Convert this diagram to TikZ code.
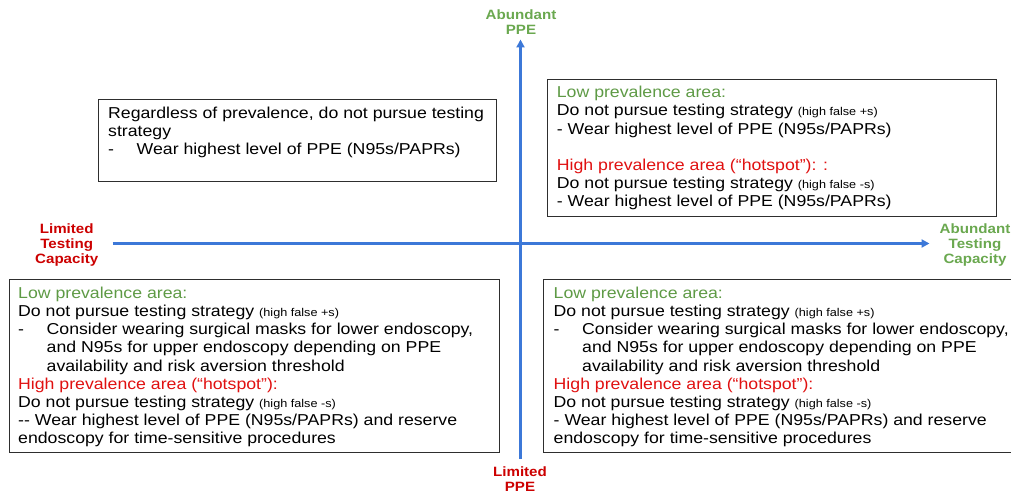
\documentclass[tikz,border=0pt]{standalone}
\usepackage{fontspec}
\setmainfont{Liberation Sans}[FakeStretch=1.12]
\usetikzlibrary{arrows.meta}
\definecolor{axisblue}{HTML}{3C78D8}
\definecolor{labgreen}{HTML}{6AA84F}
\definecolor{txtgreen}{HTML}{5E9A45}
\definecolor{labred}{HTML}{CC0000}
\definecolor{txtred}{HTML}{E01010}
\newcommand\smtxt[1]{{\fontsize{11.3}{18.15}\selectfont #1}}
\newcommand\bul{\makebox[28.5pt][l]{-}}
\newcommand\ind{\hspace*{28.5pt}}
\begin{document}
\begin{tikzpicture}[x=1pt,y=-1pt,
  box/.style={draw=black!82, line width=1.1pt, inner sep=0pt, anchor=north west},
  txt/.style={anchor=north west, inner sep=0pt, align=left, font=\fontsize{15.8}{18.15}\selectfont},
  axis/.style={draw=axisblue, line width=2.4pt, -{Triangle[length=8pt,width=8pt]}},
  lab/.style={anchor=north, inner sep=0pt, align=center, font=\bfseries\fontsize{13.5}{15}\selectfont}]
\useasboundingbox (0,0) rectangle (1011,495);

% axes
\coordinate (vbot) at (520.5,459);
\coordinate (vtop) at (520.5,39.5);
\coordinate (hleft) at (112.5,243.5);
\coordinate (hright) at (929.5,243.5);
\draw[axis] (vbot) -- (vtop);
\draw[axis] (hleft) -- (hright);

% axis labels
\node[lab, text=labgreen] (abppe) at (521,8.5) {\strut Abundant\\PPE};
\node[lab, text=labred] (limppe) at (520,466) {\strut Limited\\PPE};
\node[lab, text=labred] (limtest) at (66.7,222.8) {\strut Limited\\Testing\\Capacity};
\node[lab, text=labgreen] (abtest) at (975,222.8) {\strut Abundant\\Testing\\Capacity};

% boxes
\node[box, minimum width=398.5pt, minimum height=82pt] (tlbox) at (97.5,99) {};
\node[box, minimum width=449.5pt, minimum height=137.5pt] (trbox) at (546.5,78.5) {};
\node[box, minimum width=490.5pt, minimum height=172.5pt] (blbox) at (8.5,279) {};
\node[box, minimum width=490pt, minimum height=172.5pt] (brbox) at (543,279) {};

% texts
\node[txt] (tltext) at (108,105.6) {\strut Regardless of prevalence, do not pursue testing\\
strategy\\
\bul Wear highest level of PPE (N95s/PAPRs)};

\node[txt] (trtext) at (556.7,84.8) {\strut\textcolor{txtgreen}{Low prevalence area:}\\
Do not pursue testing strategy \smtxt{(high false +s)}\\
- Wear highest level of PPE (N95s/PAPRs)\\
\strut\\
\textcolor{txtred}{High prevalence area (“hotspot”): :}\\
Do not pursue testing strategy \smtxt{(high false -s)}\\
- Wear highest level of PPE (N95s/PAPRs)};

\node[txt] (bltext) at (18,285.6) {\strut\textcolor{txtgreen}{Low prevalence area:}\\
Do not pursue testing strategy \smtxt{(high false +s)}\\
\bul Consider wearing surgical masks for lower endoscopy,\\
\ind and N95s for upper endoscopy depending on PPE\\
\ind availability and risk aversion threshold\\
\textcolor{txtred}{High prevalence area (“hotspot”):}\\
Do not pursue testing strategy \smtxt{(high false -s)}\\
-{}- Wear highest level of PPE (N95s/PAPRs) and reserve\\
endoscopy for time-sensitive procedures};

\node[txt] (brtext) at (553.5,285.6) {\strut\textcolor{txtgreen}{Low prevalence area:}\\
Do not pursue testing strategy \smtxt{(high false +s)}\\
\bul Consider wearing surgical masks for lower endoscopy,\\
\ind and N95s for upper endoscopy depending on PPE\\
\ind availability and risk aversion threshold\\
\textcolor{txtred}{High prevalence area (“hotspot”):}\\
Do not pursue testing strategy \smtxt{(high false -s)}\\
- Wear highest level of PPE (N95s/PAPRs) and reserve\\
endoscopy for time-sensitive procedures};
\end{tikzpicture}
\end{document}
